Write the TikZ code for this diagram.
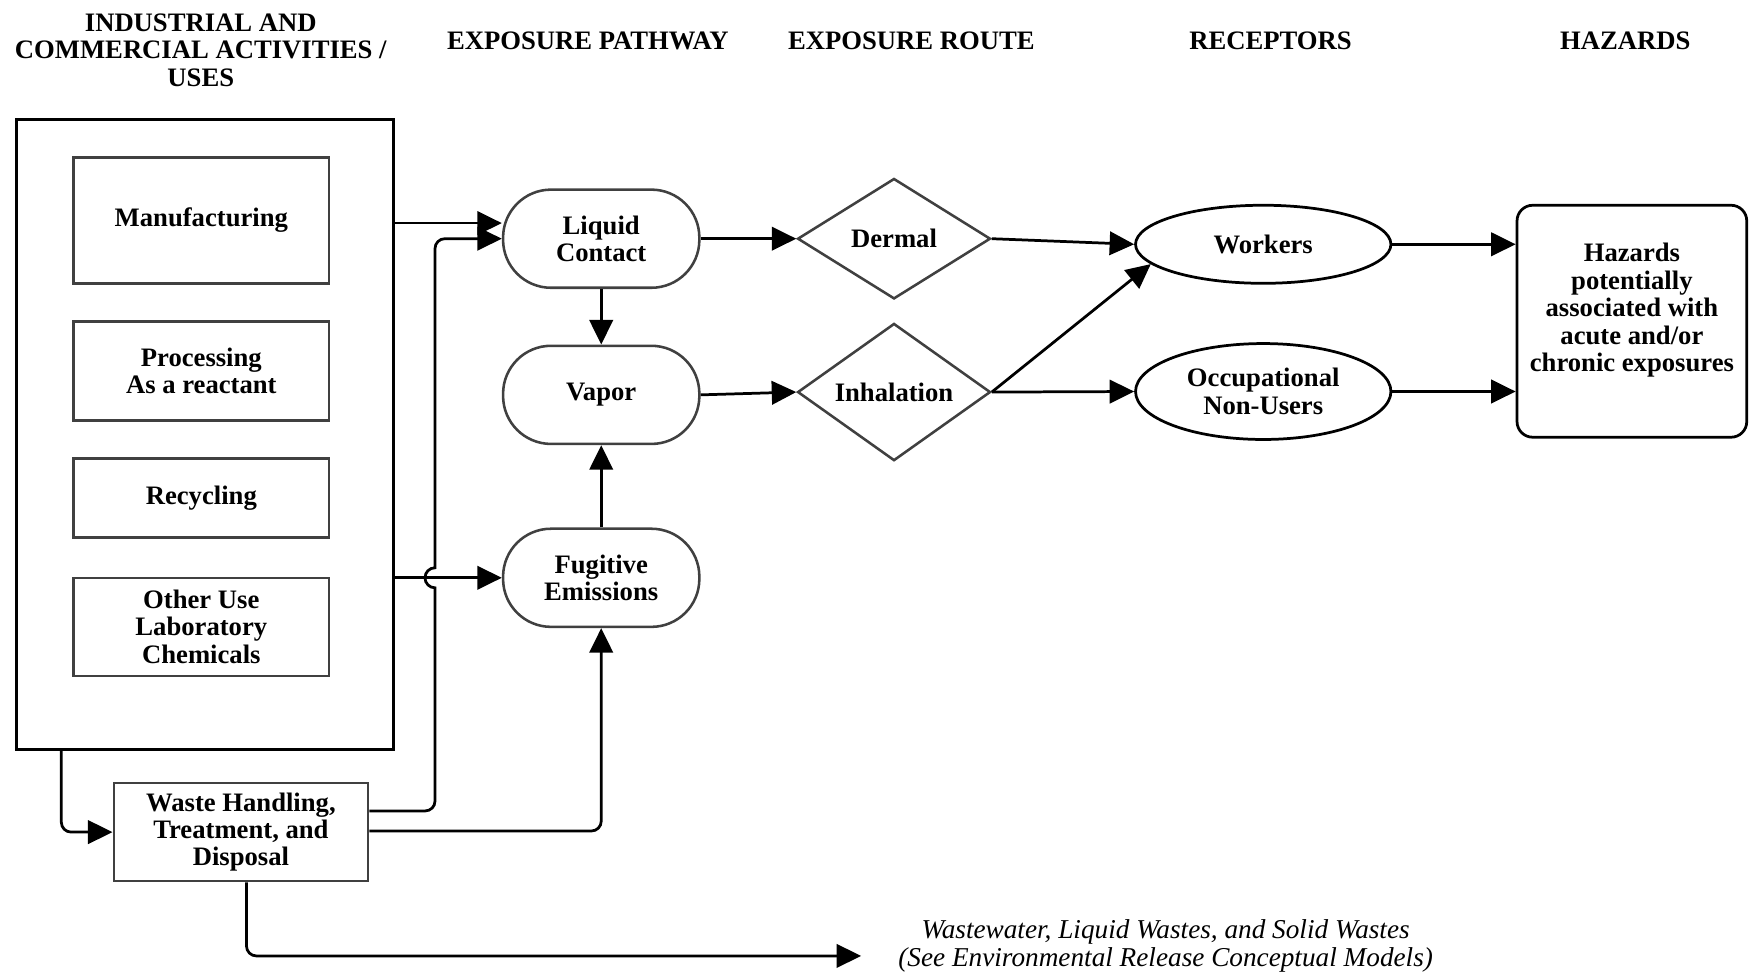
\documentclass[tikz,border=0pt]{standalone}
\usepackage{fontspec}
\setmainfont{Liberation Serif}
\usepackage{tikz}
\usetikzlibrary{arrows.meta,shapes,calc}
\definecolor{edgegray}{HTML}{404040}
\tikzset{%
  flow/.style={%
    line width=1.4pt,
    -{Triangle[length=0.44cm,width=0.42cm]}
  },
  label text/.style={%
    font=\bfseries\fontsize{13.6}{14}\selectfont,
    align=center
  },
  heading/.style={label text},
  activity box/.style={%
    label text, draw=edgegray, line width=1.3pt,
    minimum width=4.58cm, inner sep=0pt
  },
  pathway node/.style={%
    label text, draw=edgegray, line width=1.3pt,
    rounded corners=0.86cm, minimum width=3.52cm, minimum height=1.76cm, inner sep=0pt
  },
  route node/.style={%
    label text, draw=edgegray, line width=1.3pt, diamond,
    minimum width=3.46cm, minimum height=2.16cm, inner sep=0pt
  },
  receptor node/.style={%
    label text, draw, line width=1.4pt, ellipse,
    minimum width=4.58cm, inner sep=0pt
  }
}
\begin{document}
\begin{tikzpicture}[x=0.02cm,y=-0.02cm]
  \useasboundingbox (0,0) rectangle (1568,874);
  \node [heading] (hdact) at (180,45) {INDUSTRIAL AND\\COMMERCIAL ACTIVITIES /\\USES};
  \node [heading] (hdpath) at (527,37) {EXPOSURE PATHWAY};
  \node [heading] (hdroute) at (817,37) {EXPOSURE ROUTE};
  \node [heading] (hdrec) at (1139,37) {RECEPTORS};
  \node [heading] (hdhaz) at (1457,37) {HAZARDS};

  \node [draw, line width=1.4pt, minimum width=6.76cm, minimum height=11.3cm] (uses) at (184,389.5) {};
  \node [activity box, minimum height=2.26cm] (manuf) at (180.5,197.5) {Manufacturing};
  \node [activity box, minimum height=1.78cm] (proc) at (180.5,332.5) {Processing\\As a reactant};
  \node [activity box, minimum height=1.42cm] (recyc) at (180.5,446.5) {Recycling};
  \node [activity box, minimum height=1.76cm] (other) at (180.5,562) {Other Use\\Laboratory\\Chemicals};
  \node [activity box, minimum width=4.56cm, minimum height=1.76cm] (waste) at (216,746) {Waste Handling,\\Treatment, and\\Disposal};

  \node [pathway node] (liquid) at (539,214) {Liquid\\Contact};
  \node [pathway node] (vapor) at (539,354) {Vapor};
  \node [pathway node] (fugitive) at (539,518) {Fugitive\\Emissions};

  \node [route node] (dermal) at (801.5,214) {Dermal};
  \node [route node] (inhal) at (801.5,351.5) {Inhalation};

  \node [receptor node, minimum height=1.4cm] (workers) at (1132.5,219) {Workers};
  \node [receptor node, minimum height=1.72cm] (occup) at (1132.5,351) {Occupational\\Non-Users};

  \node [label text, draw, line width=1.4pt, rounded corners=8pt, minimum width=4.12cm, minimum height=4.16cm, inner sep=0pt] (hazards) at (1463,288) {Hazards\\potentially\\associated with\\acute and/or\\chronic exposures\\~};

  \node [font=\itshape\fontsize{13.9}{14}\selectfont, align=center] (release) at (1045,848) {Wastewater, Liquid Wastes, and Solid Wastes\\(See Environmental Release Conceptual Models)};
  \coordinate (wasteend) at (772,857);

  \draw [flow] (uses.east |- 0,200) -- (liquid.west |- 0,200);
  \draw [flow] (uses.east |- fugitive.west) -- (fugitive.west);
  \draw [flow, rounded corners=5pt] (uses.south -| 55,0) |- (waste.west);
  \draw [flow] (waste.east |- 0,727) [rounded corners=5pt] -| (390,600) [sharp corners] -- (390,527) arc [start angle=-90, end angle=-270, radius=0.18cm] -- (390,480) [rounded corners=5pt] |- (liquid.west);
  \draw [flow, rounded corners=5pt] (waste.east |- 0,745) -| (fugitive.south);
  \draw [flow, rounded corners=5pt] (waste.south -| 221,0) |- (wasteend);
  \draw [flow] (liquid.south) -- (vapor.north);
  \draw [flow] (fugitive.north) -- (vapor.south);
  \draw [flow] (liquid.east) -- (dermal.west);
  \draw [flow] (vapor.east) -- (inhal.west);
  \draw [flow] (dermal.east) -- (workers.west);
  \draw [flow] (inhal.east) -- (workers.190);
  \draw [flow] (inhal.east) -- (occup.west);
  \draw [flow] (workers.east) -- (hazards.west |- workers.east);
  \draw [flow] (occup.east) -- (hazards.west |- occup.east);
\end{tikzpicture}
\end{document}
